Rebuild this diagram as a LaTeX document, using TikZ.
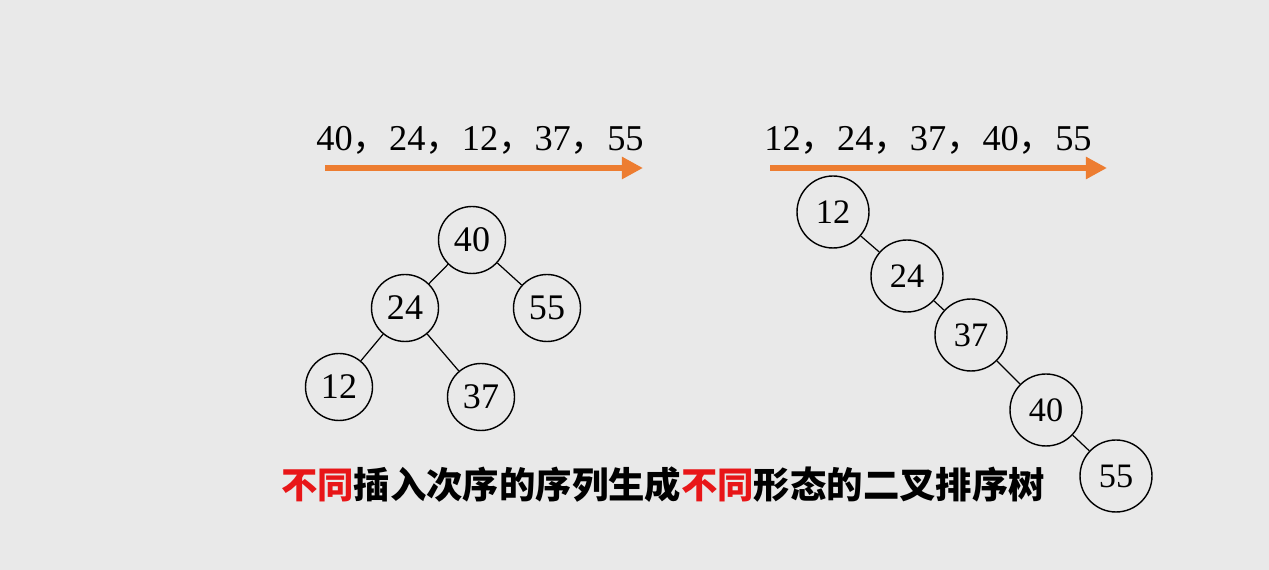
\documentclass[tikz,border=0pt]{standalone}
\usepackage{fontspec}
\setmainfont{Liberation Serif}
\newfontfamily\cjk{Noto Sans CJK SC}
\usetikzlibrary{arrows.meta}
\definecolor{paper}{RGB}{233,233,233}
\definecolor{seqorange}{RGB}{237,125,49}
\definecolor{hotred}{RGB}{232,22,24}
\newcommand{\cm}{{\cjk ，}}

\begin{document}
\begin{tikzpicture}[x=0.02cm,y=-0.02cm,
  key/.style={draw,circle,line width=0.8pt,inner sep=0pt,minimum size=1.34cm,font=\fontsize{20.5}{20.5}\selectfont},
  bigkey/.style={key,minimum size=1.44cm,font=\fontsize{19.5}{19.5}\selectfont},
  seq/.style={font=\fontsize{20.7}{20.7}\selectfont},
  order/.style={-{Triangle[length=12pt,width=12pt]},seqorange,line width=3.4pt},
  edge/.style={line width=0.7pt}]
\useasboundingbox[fill=paper] (0,0) rectangle (1269,570);
% insertion orders
\node[seq] (seqa) at (480,140) {40\cm 24\cm 12\cm 37\cm 55};
\node[seq] (seqb) at (928,140) {12\cm 24\cm 37\cm 40\cm 55};
\coordinate (a0) at (325,168);
\coordinate (a1) at (643,168);
\coordinate (b0) at (770,168);
\coordinate (b1) at (1107,168);
\draw[order] (a0) -- (a1);
\draw[order] (b0) -- (b1);
% left tree
\node[key] (l40) at (472,240) {40};
\node[key] (l24) at (405,308) {24};
\node[key] (l55) at (547,308) {55};
\node[key] (l12) at (339,387) {12};
\node[key] (l37) at (481,397) {37};
\draw[edge] (l40) -- (l24);
\draw[edge] (l40) -- (l55);
\draw[edge] (l24) -- (l12);
\draw[edge] (l24) -- (l37);
% right tree
\node[bigkey] (r12) at (833,212) {12};
\node[bigkey] (r24) at (907,276) {24};
\node[bigkey] (r37) at (971,335) {37};
\node[bigkey] (r40) at (1046,410) {40};
\node[bigkey] (r55) at (1116,476) {55};
\draw[edge] (r12) -- (r24);
\draw[edge] (r24) -- (r37);
\draw[edge] (r37) -- (r40);
\draw[edge] (r40) -- (r55);
% caption
\node[font=\cjk\bfseries\fontsize{20.7}{20.7}\selectfont] (cap) at (663,485)
  {\textcolor{hotred}{不同}插入次序的序列生成\textcolor{hotred}{不同}形态的二叉排序树};
\end{tikzpicture}
\end{document}
